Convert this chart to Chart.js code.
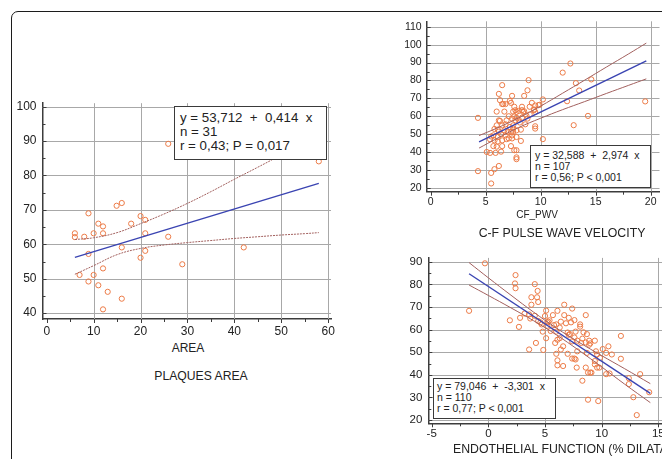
<!DOCTYPE html>
<html>
<head>
<meta charset="utf-8">
<script src="https://cdn.jsdelivr.net/npm/chart.js@4.4.1/dist/chart.umd.min.js"></script>
<style>
  html, body { margin: 0; padding: 0; background: #fff; }
  body { width: 662px; height: 459px; overflow: hidden; position: relative;
         font-family: "Liberation Sans", Arial, sans-serif; color: #222; }
  .frame { position: absolute; left: 11px; top: 11px; width: 720px; height: 520px;
           border: 1.5px solid #1c1c1c; border-radius: 7px; }
  canvas { position: absolute; }
  .lbl { position: absolute; white-space: nowrap; line-height: 1; transform: translate(-50%, -50%); }
  .box { position: absolute; box-sizing: border-box; background: #fff; border: 1px solid #3a3a3a;
         white-space: pre; z-index: 2; }
</style>
</head>
<body>
<div class="frame"></div>

<canvas id="area" width="340" height="250" style="left:0;top:90px"></canvas>
<canvas id="pwv" width="282" height="215" style="left:380px;top:10px"></canvas>
<canvas id="fmd" width="320" height="200" style="left:380px;top:245px"></canvas>

<div class="lbl" style="left:188px;top:348px;font-size:12px">AREA</div>
<div class="lbl" style="left:201px;top:376px;font-size:12.2px">PLAQUES AREA</div>
<div class="lbl" style="left:537px;top:215px;font-size:10px">CF_PWV</div>
<div class="lbl" style="left:562px;top:233px;font-size:12.3px">C-F PULSE WAVE VELOCITY</div>
<div class="lbl" style="left:453px;top:449px;font-size:12.3px;transform:translate(0,-50%)">ENDOTHELIAL FUNCTION (% DILATATION)</div>

<div class="box" style="left:174px;top:106px;width:153px;height:54px;font-size:13.3px;line-height:14px;padding:4px 0 0 5px">y = 53,712  +  0,414  x
n = 31
r = 0,43; P = 0,017</div>
<div class="box" style="left:530px;top:145px;width:121px;height:43px;font-size:10.5px;line-height:11px;padding:3.5px 0 0 4px">y = 32,588  +  2,974  x
n = 107
r = 0,56; P &lt; 0,001</div>
<div class="box" style="left:433px;top:378px;width:123px;height:41px;font-size:10.5px;line-height:11px;padding:2px 0 0 3px">y = 79,046  +  -3,301  x
n = 110
r = 0,77; P &lt; 0,001</div>

<script>
// plaque area vs. outcome (n = 31)
const areaX = [6, 6, 8, 8.9, 8.9, 7, 8.9, 10, 10, 11, 12, 12, 12, 11, 13, 12, 14.9, 16, 16, 16,
  18, 20, 21, 21, 21, 20, 25.9, 25.9, 28.9, 42, 58];
const areaY = [63.2, 62.1, 62.2, 69, 57.2, 51.1, 49.2, 63.2, 51.1, 66, 65.2, 63.2, 53, 48.1, 46.2, 41.1, 71.2, 72, 59.1, 44.2,
  66, 68.2, 67.1, 63.2, 58.1, 56.1, 89.2, 62.2, 54.2, 59.1, 84.1];
const areaFitX = [6, 58];
const areaFitY = [56.2, 77.7];
const areaBandX = [6, 10, 15, 20, 25, 30, 35, 40, 45, 50, 55, 58];
const areaUpper = [61.4, 61.9, 63.4, 66.0, 68.8, 71.9, 75.3, 78.9, 82.4, 86.0, 89.8, 92.0];
const areaLower = [51.3, 53.8, 57.0, 58.8, 59.8, 60.5, 61.1, 61.7, 62.2, 62.7, 63.1, 63.4];

// carotid-femoral pulse wave velocity (n = 107)
const pwvX = [12.7, 12.0, 14.6, 13.2, 13.5, 19.5, 12.4, 14.3, 13.0, 10.2, 10.2, 8.9, 6.5, 8.8, 6.2, 7.4, 8.5, 4.3, 4.3, 5.5,
  5.5, 5.8, 6.2, 7.8, 7.8, 7.8, 7.6, 7.3, 6.5, 5.1, 5.4, 5.9, 5.7, 6.0, 6.4, 8.2, 6.9, 9.5, 9.5,
  6.6, 6.8, 6.5, 7.2, 7.3, 8.3, 8.5, 9.0, 9.2, 9.5, 9.4, 9.8, 9.9, 7.6, 7.7, 7.8, 8.0, 8.3, 8.4, 7.5, 6.0, 6.7, 9.5, 9.4,
  7.1, 7.6, 7.8, 7.7, 8.0, 7.4, 6.9, 6.2, 6.3, 8.8, 8.7, 8.3,
  6.5, 6.0, 6.8, 7.2, 7.5, 7.5, 5.8, 6.1, 6.2, 6.7, 7.0, 7.3, 7.5, 7.8, 8.2, 8.6,
  5.5, 5.7, 5.4, 6.1, 6.4, 6.8, 7.4, 7.4, 7.1, 6.5, 7.8, 5.8, 6.1,
  6.3, 8.1, 9.0];
const pwvY = [89.5, 84.4, 80.6, 78.5, 74.4, 68.3, 68.4, 60.2, 55.0, 47.2, 69.4, 80.2, 77.4, 74.5, 72.5, 71.4, 71.4, 59.1, 29.3, 22.4,
  28.3, 30.4, 32.2, 37.0, 36.0, 41.0, 41.0, 43.3, 43.3, 40.0, 39.5, 39.5, 43.3, 43.0, 40.2, 46.2, 47.2, 54.4, 53.1,
  66.8, 66.8, 66.8, 68.6, 67.5, 65.3, 62.8, 65.3, 67.5, 66.0, 63.8, 66.2, 66.4, 65.3, 63.4, 62.4, 63.0, 63.4, 62.4, 62.6, 62.6, 62.6, 62.4, 63.4,
  60.0, 60.0, 59.2, 57.7, 58.1, 58.7, 57.7, 57.7, 57.4, 58.7, 60.4, 59.2,
  54.9, 54.9, 55.5, 54.0, 54.9, 53.1, 52.9, 52.5, 51.4, 52.1, 51.2, 51.2, 51.2, 52.1, 52.5, 55.5,
  48.7, 49.3, 47.1, 48.4, 49.9, 49.3, 49.3, 47.6, 47.6, 46.5, 48.4, 46.5, 45.9,
  69.0, 56.5, 61.0];
const pwvFitX = [4.4, 19.6];
const pwvFitY = [45.7, 90.9];
const pwvBandX = [4.4, 6, 8, 10, 12, 14, 16, 18, 19.6];
const pwvUpper = [49.2, 53.3, 59.1, 65.7, 72.9, 80.2, 87.6, 94.9, 100.9];
const pwvLower = [42.2, 47.5, 53.7, 58.9, 63.7, 68.2, 72.8, 77.3, 80.9];

// endothelial function, % dilatation (n = 110)
const fmdX = [-0.3, -1.7, 2.4, 2.35, 2.4, 4.1, 4.35, 3.8, 4.3, 4.4, 3.8, 1.9, 2.7, 2.8, 3.2, 3.6, 3.7, 4.1, 4.2, 3.6,
  4.85, 5.1, 4.6, 4.8, 5.1, 5.3, 5.4, 5.7, 5.8, 6.0, 6.1, 6.3, 6.0, 5.5, 5.9, 6.1, 6.4, 6.7, 6.4, 6.7,
  6.0, 6.1, 6.1, 6.6, 6.3, 7.1, 7.3, 7.4, 7.0, 7.2, 7.6, 7.4, 7.7, 7.6, 7.85, 7.4, 7.6, 7.8, 7.0, 8.1,
  8.6, 8.4, 8.7, 8.2, 8.6, 9.0, 8.9, 8.9, 9.4, 8.7, 8.6, 9.0, 9.1, 8.8, 8.3, 8.8, 9.7, 9.5, 9.6, 9.4,
  9.6, 9.8, 10.1, 10.4, 10.9, 9.85, 10.4, 10.7, 11.7, 11.7, 12.4, 12.4, 13.4, 12.8, 13.1, 14.2, 7.7, 5.2, 5.2, 4.7,
  4.4, 6.85, 8.1, 7.85, 6.6, 7.1, 9.4, 10.6, 5.0, 8.3];
const fmdY = [89.3, 68.3, 84.1, 80.4, 78.3, 80.1, 77.1, 74.3, 74.3, 72.2, 71.0, 64.1, 61.2, 65.2, 67.1, 66.7, 64.9, 66.1, 54.1, 51.2,
  51.0, 68.4, 63.2, 59.1, 56.2, 63.5, 64.1, 66.4, 62.0, 62.3, 68.3, 60.9, 59.1, 59.4, 54.1, 55.5, 51.2, 71.0, 63.5, 66.4,
  49.3, 46.4, 44.2, 43.9, 56.2, 65.2, 63.2, 69.3, 58.7, 58.0, 64.2, 54.8, 59.1, 56.5, 55.1, 47.2, 47.2, 43.2, 49.3, 62.3,
  66.4, 58.8, 58.0, 54.1, 54.3, 53.9, 53.3, 55.1, 55.1, 49.7, 43.2, 41.0, 41.0, 41.0, 37.4, 29.0, 28.4, 50.4, 49.0, 46.1,
  43.2, 43.2, 51.4, 49.7, 49.0, 47.5, 40.3, 40.6, 57.2, 47.1, 38.5, 35.9, 40.3, 30.1, 22.2, 32.3, 46.8, 63.2, 61.7, 62.3,
  63.8, 62.8, 61.3, 50.4, 52.6, 57.7, 44.6, 52.6, 66.0, 56.0];
const fmdFitX = [-1.7, 14.3];
const fmdFitY = [84.7, 31.8];
const fmdBandX = [-1.7, 0, 2, 4, 6, 8, 10, 12, 14.3];
const fmdUpper = [89.6, 82.9, 75.2, 67.7, 60.7, 54.4, 48.5, 42.8, 36.1];
const fmdLower = [79.7, 75.1, 69.6, 63.9, 57.7, 50.8, 43.5, 36.0, 27.7];

const DOT = '#ec7b47';
const FIT = '#3a44b2';
const BAND = '#a2605e';
const GRID = '#a8a8a8';
const AXIS = '#3c3c3c';
const FONT = '"Liberation Sans", Arial, sans-serif';

const pts = (xs, ys) => xs.map((x, i) => ({ x: x, y: ys[i] }));
const halves = t => t.slice(0, -1).map((v, i) => (v + t[i + 1]) / 2);
const crisp = v => Math.round(v) + 0.5;

// grid lines behind the data, tick marks on the axes (positions from the chart's own scales)
const axisMarks = {
  id: 'axisMarks',
  beforeDatasetsDraw(chart) {
    const { ctx, chartArea: a, scales: { x, y } } = chart;
    ctx.save();
    ctx.strokeStyle = GRID;
    ctx.lineWidth = 1;
    ctx.beginPath();
    x.ticks.slice(1).forEach(t => {
      const px = crisp(x.getPixelForValue(t.value));
      ctx.moveTo(px, a.top);
      ctx.lineTo(px, a.bottom);
    });
    y.ticks.forEach(t => {
      const py = crisp(y.getPixelForValue(t.value));
      ctx.moveTo(a.left, py);
      ctx.lineTo(a.right, py);
    });
    ctx.stroke();
    ctx.restore();
  },
  afterDraw(chart) {
    const { ctx, chartArea: a, scales: { x, y } } = chart;
    ctx.save();
    ctx.strokeStyle = AXIS;
    ctx.lineWidth = 1;
    ctx.beginPath();
    x.ticks.forEach(t => {
      const px = crisp(x.getPixelForValue(t.value));
      ctx.moveTo(px, a.bottom);
      ctx.lineTo(px, a.bottom + 4);
    });
    halves(x.ticks.map(t => t.value)).forEach(v => {
      const px = crisp(x.getPixelForValue(v));
      ctx.moveTo(px, a.bottom);
      ctx.lineTo(px, a.bottom + 3);
    });
    y.ticks.forEach(t => {
      const py = crisp(y.getPixelForValue(t.value));
      ctx.moveTo(a.left, py);
      ctx.lineTo(a.left + 4, py);
    });
    halves(y.ticks.map(t => t.value)).forEach(v => {
      const py = crisp(y.getPixelForValue(v));
      ctx.moveTo(a.left, py);
      ctx.lineTo(a.left + 3, py);
    });
    ctx.stroke();
    ctx.restore();
  }
};

function plot(id, p) {
  return new Chart(document.getElementById(id), {
    type: 'scatter',
    data: {
      datasets: [
        { data: pts(p.fitX, p.fitY), showLine: true, borderColor: FIT, borderWidth: 1.4, pointRadius: 0 },
        { data: pts(p.bandX, p.upper), showLine: true, borderColor: BAND, borderWidth: 1, pointRadius: 0,
          tension: 0.4, borderDash: p.dash },
        { data: pts(p.bandX, p.lower), showLine: true, borderColor: BAND, borderWidth: 1, pointRadius: 0,
          tension: 0.4, borderDash: p.dash },
        { data: pts(p.xs, p.ys), pointRadius: 2.6, borderColor: DOT, borderWidth: 1,
          backgroundColor: 'rgba(0,0,0,0)' },
      ]
    },
    options: {
      responsive: false,
      animation: false,
      layout: { padding: p.pad, autoPadding: false },
      plugins: {
        legend: { display: false },
        tooltip: { enabled: false },
      },
      scales: {
        x: {
          type: 'linear', min: p.xMin, max: p.xMax,
          afterBuildTicks: s => { s.ticks = p.xTicks.map(v => ({ value: v })); },
          afterFit: s => { s.height = p.xH; },
          grid: { display: false, drawTicks: false },
          border: { display: true, color: AXIS, width: 1.5 },
          ticks: { color: '#222', font: { family: FONT, size: p.font }, padding: p.xPad, maxRotation: 0 },
        },
        y: {
          type: 'linear', min: p.yMin, max: p.yMax,
          afterBuildTicks: s => { s.ticks = p.yTicks.map(v => ({ value: v })); },
          afterFit: s => { s.width = p.yW; },
          grid: { display: false, drawTicks: false },
          border: { display: true, color: AXIS, width: 1.5 },
          ticks: { color: '#222', font: { family: FONT, size: p.font }, padding: p.yPad },
        }
      }
    },
    plugins: [axisMarks]
  });
}

plot('area', {
  xs: areaX, ys: areaY, fitX: areaFitX, fitY: areaFitY,
  bandX: areaBandX, upper: areaUpper, lower: areaLower, dash: [2, 1],
  xMin: -0.9, xMax: 60.6, yMin: 38.3, yMax: 101,
  xTicks: [0, 10, 20, 30, 40, 50, 60], yTicks: [40, 50, 60, 70, 80, 90, 100],
  pad: { top: 13, right: 9, left: 0, bottom: 0 }, xH: 21, yW: 42.5,
  font: 12, xPad: 5, yPad: 6,
});

plot('pwv', {
  xs: pwvX, ys: pwvY, fitX: pwvFitX, fitY: pwvFitY,
  bandX: pwvBandX, upper: pwvUpper, lower: pwvLower, dash: [],
  xMin: -0.36, xMax: 20.8, yMin: 17.8, yMax: 113.1,
  xTicks: [0, 5, 10, 15, 20], yTicks: [20, 30, 40, 50, 60, 70, 80, 90, 100, 110],
  pad: { top: 10, right: 2.5, left: 0, bottom: 0 }, xH: 33.3, yW: 46.7,
  font: 10.5, xPad: 4, yPad: 5,
});

plot('fmd', {
  xs: fmdX, ys: fmdY, fitX: fmdFitX, fitY: fmdFitY,
  bandX: fmdBandX, upper: fmdUpper, lower: fmdLower, dash: [],
  xMin: -5.3, xMax: 16, yMin: 18.57, yMax: 91.7,
  xTicks: [-5, 0, 5, 10, 15], yTicks: [20, 30, 40, 50, 60, 70, 80, 90],
  pad: { top: 10, right: 30.4, left: 0, bottom: 0 }, xH: 21.7, yW: 48.3,
  font: 11.5, xPad: 4, yPad: 6,
});
</script>
</body>
</html>
